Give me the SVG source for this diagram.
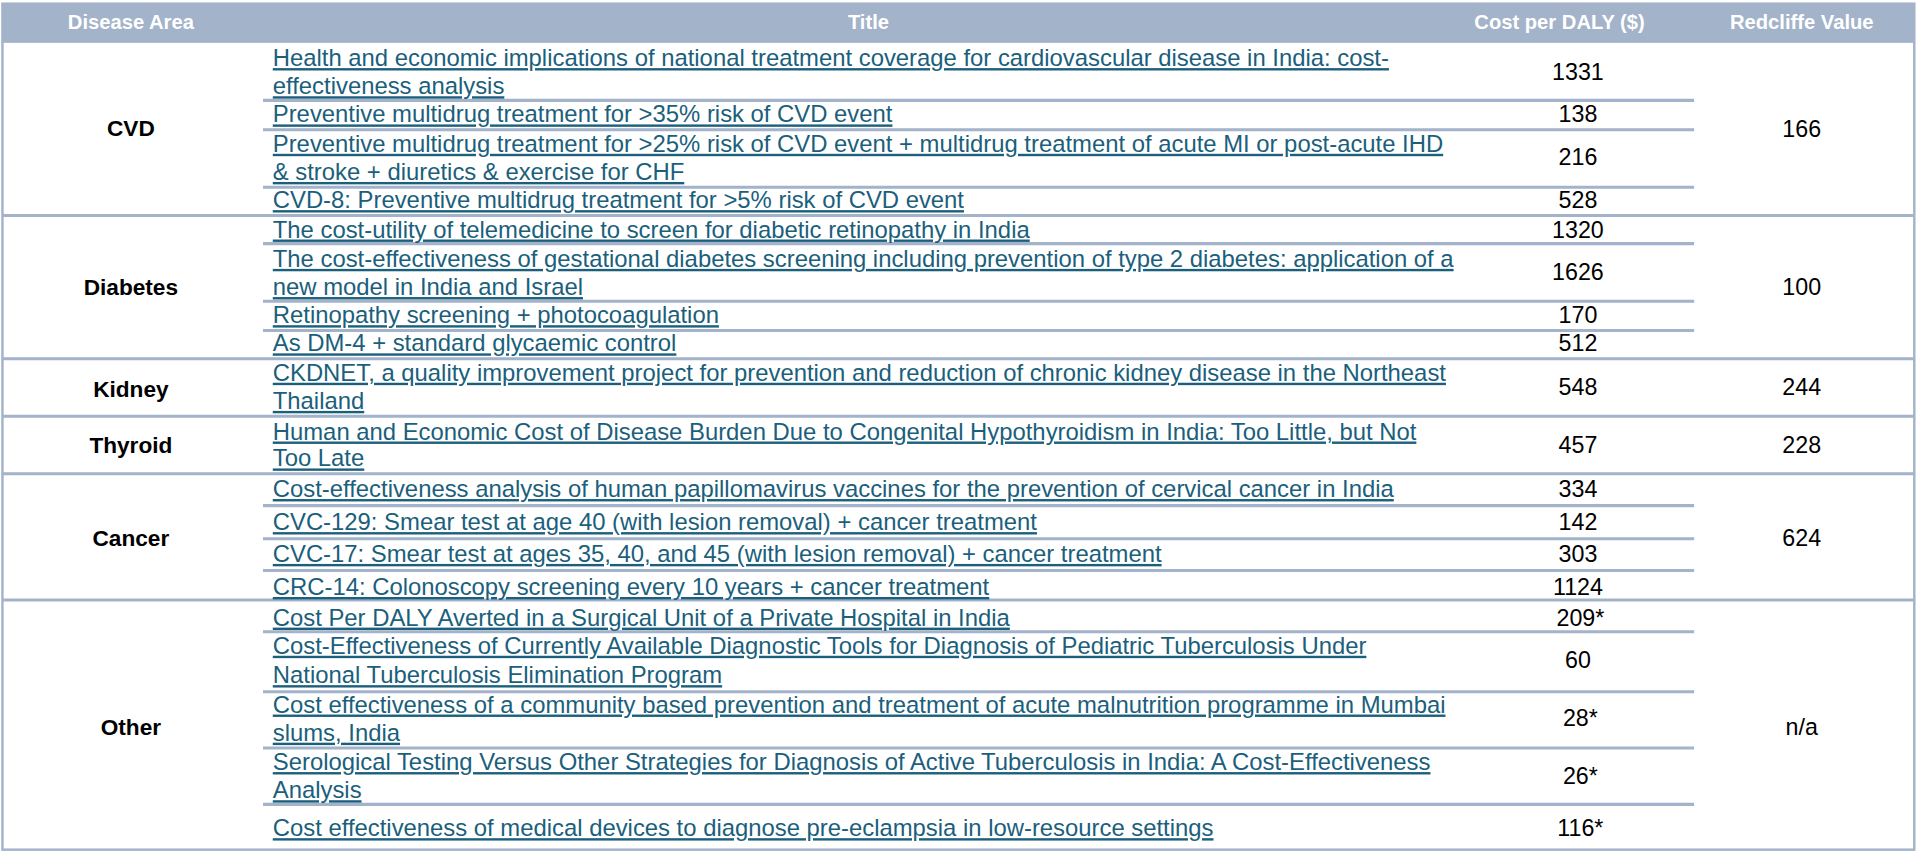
<svg xmlns="http://www.w3.org/2000/svg" width="1918" height="857" viewBox="0 0 1918 857">
<style>
text{font-family:"Liberation Sans",Arial,sans-serif;font-size:19px}
.h{fill:#fff;font-weight:bold;font-size:16.5px;text-anchor:middle}
.a{font-weight:bold;text-anchor:middle;fill:#000;font-size:18.5px}
.t{fill:#1b5f7c;text-decoration:underline;font-size:19.5px}
.c{text-anchor:middle;fill:#000}
.g{stroke:#a3b3c9;stroke-width:2;fill:none}
.s{stroke:#a3b3c9;stroke-width:2.5}
</style>
<rect width="1918" height="857" fill="#fff"/>
<g transform="scale(1.2232 1.2243)">
<g id="header">
<rect x="2" y="3" width="1563" height="32" fill="#a3b3c9"/>
<text class="h" x="107" y="24">Disease Area</text>
<text class="h" x="710" y="24">Title</text>
<text class="h" x="1275" y="24">Cost per DALY ($)</text>
<text class="h" x="1473" y="24">Redcliffe Value</text>
</g>
<g id="grid">
<rect class="g" x="2" y="3" width="1563" height="691"/>
<path class="s" d="M2 176H1565M2 293H1565M2 340H1565M2 387H1565M2 490H1565"/>
<path class="s" d="M215 82H1385M215 106H1385M215 153H1385M215 199H1385M215 246H1385M215 270H1385M215 413H1385M215 440H1385M215 466H1385M215 516H1385M215 565H1385M215 611H1385M215 657H1385"/>
</g>
<g id="areas">
<text class="a" x="107" y="111">CVD</text>
<text class="a" x="107" y="241">Diabetes</text>
<text class="a" x="107" y="324">Kidney</text>
<text class="a" x="107" y="370">Thyroid</text>
<text class="a" x="107" y="446">Cancer</text>
<text class="a" x="107" y="600">Other</text>
</g>
<g id="titles">
<text class="t" x="223" y="54">Health and economic implications of national treatment coverage for cardiovascular disease in India: cost-</text>
<text class="t" x="223" y="77">effectiveness analysis</text>
<text class="t" x="223" y="100">Preventive multidrug treatment for &gt;35% risk of CVD event</text>
<text class="t" x="223" y="124">Preventive multidrug treatment for &gt;25% risk of CVD event + multidrug treatment of acute MI or post-acute IHD</text>
<text class="t" x="223" y="147">&amp; stroke + diuretics &amp; exercise for CHF</text>
<text class="t" x="223" y="170">CVD-8: Preventive multidrug treatment for &gt;5% risk of CVD event</text>
<text class="t" x="223" y="194">The cost-utility of telemedicine to screen for diabetic retinopathy in India</text>
<text class="t" x="223" y="218">The cost-effectiveness of gestational diabetes screening including prevention of type 2 diabetes: application of a</text>
<text class="t" x="223" y="241">new model in India and Israel</text>
<text class="t" x="223" y="264">Retinopathy screening + photocoagulation</text>
<text class="t" x="223" y="287">As DM-4 + standard glycaemic control</text>
<text class="t" x="223" y="311">CKDNET, a quality improvement project for prevention and reduction of chronic kidney disease in the Northeast</text>
<text class="t" x="223" y="334">Thailand</text>
<text class="t" x="223" y="359">Human and Economic Cost of Disease Burden Due to Congenital Hypothyroidism in India: Too Little, but Not</text>
<text class="t" x="223" y="381">Too Late</text>
<text class="t" x="223" y="406">Cost-effectiveness analysis of human papillomavirus vaccines for the prevention of cervical cancer in India</text>
<text class="t" x="223" y="433">CVC-129: Smear test at age 40 (with lesion removal) + cancer treatment</text>
<text class="t" x="223" y="459">CVC-17: Smear test at ages 35, 40, and 45 (with lesion removal) + cancer treatment</text>
<text class="t" x="223" y="486">CRC-14: Colonoscopy screening every 10 years + cancer treatment</text>
<text class="t" x="223" y="511">Cost Per DALY Averted in a Surgical Unit of a Private Hospital in India</text>
<text class="t" x="223" y="534">Cost-Effectiveness of Currently Available Diagnostic Tools for Diagnosis of Pediatric Tuberculosis Under</text>
<text class="t" x="223" y="558">National Tuberculosis Elimination Program</text>
<text class="t" x="223" y="582">Cost effectiveness of a community based prevention and treatment of acute malnutrition programme in Mumbai</text>
<text class="t" x="223" y="605">slums, India</text>
<text class="t" x="223" y="629">Serological Testing Versus Other Strategies for Diagnosis of Active Tuberculosis in India: A Cost-Effectiveness</text>
<text class="t" x="223" y="652">Analysis</text>
<text class="t" x="223" y="683">Cost effectiveness of medical devices to diagnose pre-eclampsia in low-resource settings</text>
</g>
<g id="costs">
<text class="c" x="1290" y="65">1331</text>
<text class="c" x="1290" y="100">138</text>
<text class="c" x="1290" y="135">216</text>
<text class="c" x="1290" y="170">528</text>
<text class="c" x="1290" y="194">1320</text>
<text class="c" x="1290" y="229">1626</text>
<text class="c" x="1290" y="264">170</text>
<text class="c" x="1290" y="287">512</text>
<text class="c" x="1290" y="323">548</text>
<text class="c" x="1290" y="370">457</text>
<text class="c" x="1290" y="406">334</text>
<text class="c" x="1290" y="433">142</text>
<text class="c" x="1290" y="459">303</text>
<text class="c" x="1290" y="486">1124</text>
<text class="c" x="1292" y="511">209*</text>
<text class="c" x="1290" y="546">60</text>
<text class="c" x="1292" y="593">28*</text>
<text class="c" x="1292" y="640">26*</text>
<text class="c" x="1292" y="683">116*</text>
</g>
<g id="redcliffe">
<text class="c" x="1473" y="112">166</text>
<text class="c" x="1473" y="241">100</text>
<text class="c" x="1473" y="323">244</text>
<text class="c" x="1473" y="370">228</text>
<text class="c" x="1473" y="446">624</text>
<text class="c" x="1473" y="600">n/a</text>
</g>
</g>
</svg>
